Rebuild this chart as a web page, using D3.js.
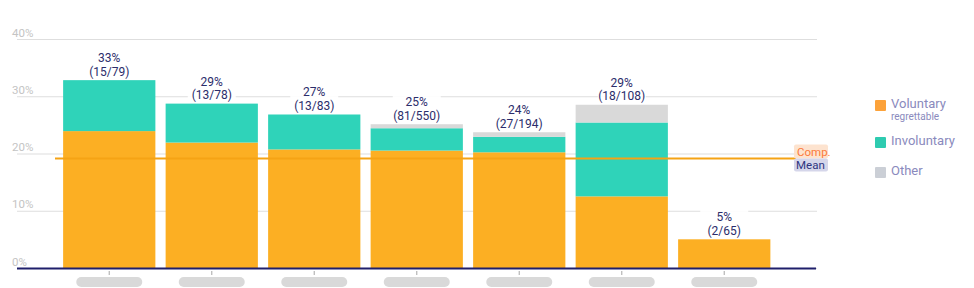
<!DOCTYPE html>
<meta charset="utf-8">
<script src="https://d3js.org/d3.v7.min.js"></script>
<style>
  body { margin: 0; background: #fff; }
  text { font-family: Roboto, "Noto Sans", sans-serif; }
</style>
<div id="chart"></div>
<script>
// data (percent of headcount)
var groups = ["g1", "g2", "g3", "g4", "g5", "g6", "g7"];
var voluntary = [24.0, 22.0, 20.8, 20.6, 20.3, 12.6, 5.1];
var involuntary = [8.9, 6.8, 6.1, 3.9, 2.7, 12.9, 0];
var other = [0, 0, 0, 0.7, 0.8, 3.1, 0];
var pctLabels = ["33%", "29%", "27%", "25%", "24%", "29%", "5%"];
var countLabels = ["(15/79)", "(13/78)", "(13/83)", "(81/550)", "(27/194)", "(18/108)", "(2/65)"];
var yTicks = [0, 10, 20, 30, 40];
var compMean = 19.2;

var width = 974, height = 288;
var svg = d3.select("#chart").append("svg")
    .attr("width", width)
    .attr("height", height);

var y = d3.scaleLinear().domain([0, 40]).range([268.5, 39.5]);
var x = d3.scaleBand().domain(groups).range([58, 775.5])
    .paddingInner(0.1).paddingOuter(0.05);

// gridlines + y labels
svg.selectAll(".grid").data(yTicks).enter().append("line")
    .attr("x1", 17).attr("x2", 817)
    .attr("y1", d => y(d)).attr("y2", d => y(d))
    .attr("stroke", "#dedede").attr("stroke-width", 1.2);
svg.selectAll(".ylab").data(yTicks).enter().append("text")
    .attr("x", 12).attr("y", d => y(d) - 3)
    .attr("font-size", 11.5).attr("fill", "#c4c4c4")
    .text(d => d + "%");

// stacked bars
var rows = groups.map((g, i) => ({ g: g, voluntary: voluntary[i], involuntary: involuntary[i], other: other[i] }));
var keys = ["voluntary", "involuntary", "other"];
var colors = { voluntary: "#fcaf23", involuntary: "#2fd3b9", other: "#d9d9d9" };
var stack = d3.stack().keys(keys)(rows);

svg.selectAll(".layer").data(stack).enter().append("g")
    .attr("fill", d => colors[d.key])
    .selectAll("rect").data(d => d).enter().append("rect")
    .attr("x", d => x(d.data.g))
    .attr("width", x.bandwidth())
    .attr("y", d => y(d[1]))
    .attr("height", d => y(d[0]) - y(d[1]));

// comp mean line
svg.append("line")
    .attr("x1", 55).attr("x2", 796)
    .attr("y1", y(compMean)).attr("y2", y(compMean))
    .attr("stroke", "#f5a315").attr("stroke-width", 2);
svg.append("rect").attr("x", 794).attr("y", y(compMean) - 14).attr("width", 34).attr("height", 14)
    .attr("rx", 2).attr("fill", "#fde3cf");
svg.append("rect").attr("x", 794).attr("y", y(compMean)).attr("width", 34).attr("height", 13)
    .attr("rx", 2).attr("fill", "#d5d6ea");
svg.append("text").attr("x", 797).attr("y", y(compMean) - 3)
    .attr("font-size", 11.5).attr("fill", "#fb7a3a").text("Comp.");
svg.append("text").attr("x", 796).attr("y", y(compMean) + 10)
    .attr("font-size", 11.5).attr("fill", "#2e3580").text("Mean");

// value labels
var lab = svg.selectAll(".lab").data(rows).enter().append("g")
    .attr("transform", (d, i) => "translate(" + (x(d.g) + x.bandwidth() / 2) + "," + y(d.voluntary + d.involuntary + d.other) + ")");
lab.append("rect")
    .attr("x", -24).attr("y", -30).attr("width", 48).attr("height", 29)
    .attr("fill", "#fff").attr("opacity", 0.9);
lab.append("text").attr("text-anchor", "middle").attr("y", -18)
    .attr("font-size", 12).attr("fill", "#2b2d6b")
    .text((d, i) => pctLabels[i]);
lab.append("text").attr("text-anchor", "middle").attr("y", -4.5)
    .attr("font-size", 12).attr("fill", "#2b2d6b")
    .text((d, i) => countLabels[i]);

// x axis
svg.append("line").attr("x1", 17).attr("x2", 816)
    .attr("y1", 268.5).attr("y2", 268.5)
    .attr("stroke", "#1f1f6b").attr("stroke-width", 2);
svg.selectAll(".tick").data(groups).enter().append("line")
    .attr("x1", d => x(d) + x.bandwidth() / 2).attr("x2", d => x(d) + x.bandwidth() / 2)
    .attr("y1", 271).attr("y2", 275)
    .attr("stroke", "#b5b5b5").attr("stroke-width", 1.2);
// category names are blurred out in the reference
svg.selectAll(".pill").data(groups).enter().append("rect")
    .attr("x", d => x(d) + x.bandwidth() / 2 - 33)
    .attr("y", 277).attr("width", 66).attr("height", 10).attr("rx", 5)
    .attr("fill", "#d9d9d9");

// legend
var legend = [
    { key: "voluntary", label: "Voluntary", sub: "regrettable", color: "#fca23a", y: 103 },
    { key: "involuntary", label: "Involuntary", color: "#2ecbb0", y: 140 },
    { key: "other", label: "Other", color: "#cbcfd6", y: 170 }
];
var lg = svg.selectAll(".lg").data(legend).enter().append("g")
    .attr("transform", d => "translate(875," + d.y + ")");
lg.append("rect").attr("x", 0).attr("y", -3).attr("width", 11).attr("height", 11).attr("rx", 1)
    .attr("fill", d => d.color);
lg.append("text").attr("x", 16).attr("y", 4.5)
    .attr("font-size", 13).attr("fill", "#8a8abd")
    .text(d => d.label);
lg.filter(d => d.sub).append("text").attr("x", 16).attr("y", 17)
    .attr("font-size", 10).attr("fill", "#8a8abd")
    .text(d => d.sub);
</script>
